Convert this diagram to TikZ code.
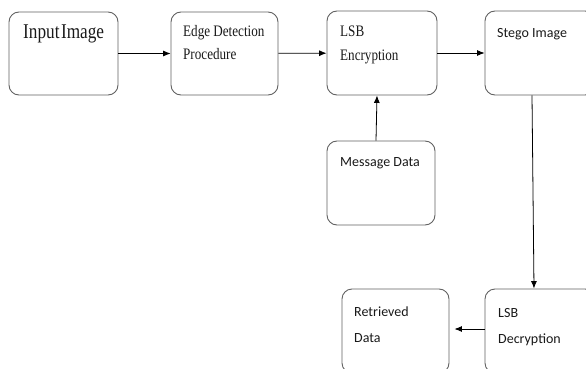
\documentclass[tikz,border=0pt]{standalone}
\usepackage{fontspec}
\setmainfont{Liberation Serif}
\newfontfamily\serifnarrow[FakeStretch=0.82]{Liberation Serif}
\newfontfamily\calibrifont{Carlito}
\usetikzlibrary{arrows.meta}
\begin{document}
\begin{tikzpicture}[
        x=1pt, y=-1pt,
        block/.style={draw=black!62, rounded corners=10pt, line width=0.9pt, minimum height=83pt, inner sep=0pt},
        serif/.style={anchor=north west, inner sep=0pt, align=left, text=black!90, font=\serifnarrow\fontsize{16}{23.5}\selectfont},
        sans/.style={anchor=north west, inner sep=0pt, align=left, text=black!90, font=\calibrifont\fontsize{14}{26}\selectfont},
        arrow/.style={-{Latex[length=7.5pt,width=6pt]}, line width=0.8pt}
        ]
        \useasboundingbox (0,0) rectangle (586,369);
        \clip (0,0) rectangle (586,369);

        \node[block, minimum width=109pt] (input) at (63.5,53.5) {};
        \node[block, minimum width=107pt] (edge) at (224.5,53.5) {};
        \node[block, minimum width=110pt, minimum height=84pt] (lsbenc) at (382,53) {};
        \node[block, minimum width=110pt, minimum height=84pt] (stego) at (540,53) {};
        \node[block, minimum width=108pt, minimum height=84pt] (message) at (381,183) {};
        \node[block, minimum width=107pt, minimum height=84pt] (retrieved) at (395.5,331) {};
        \node[block, minimum width=110pt, minimum height=84pt] (lsbdec) at (540,331) {};

        \node[serif, font=\serifnarrow\fontsize{21}{25}\selectfont] (inputtxt) at (23,25) {Input\hspace{1.5pt}Image};
        \node[serif] (edgetxt) at (183,25) {Edge Detection\\Procedure};
        \node[serif] (lsbenctxt) at (340,26) {LSB\\Encryption};
        \node[sans] (stegotxt) at (497,28) {Stego Image};
        \node[sans] (messagetxt) at (340,157) {Message Data};
        \node[sans] (retrievedtxt) at (354,307) {Retrieved\\Data};
        \node[sans] (lsbdectxt) at (498,308) {LSB\\Decryption};

        \draw[arrow] (input) -- (edge);
        \draw[arrow] (edge) -- (lsbenc);
        \draw[arrow] (lsbenc) -- (stego);
        \draw[arrow] ([xshift=-5pt]message.north) -- ([xshift=-5pt]lsbenc.south);
        \draw[arrow] ([xshift=-8pt]stego.south) -- ([xshift=-6pt]lsbdec.north);
        \draw[arrow, shorten >=5pt] ([yshift=2pt]lsbdec.west) -- ([yshift=2pt]retrieved.east);
    \end{tikzpicture}
\end{document}
